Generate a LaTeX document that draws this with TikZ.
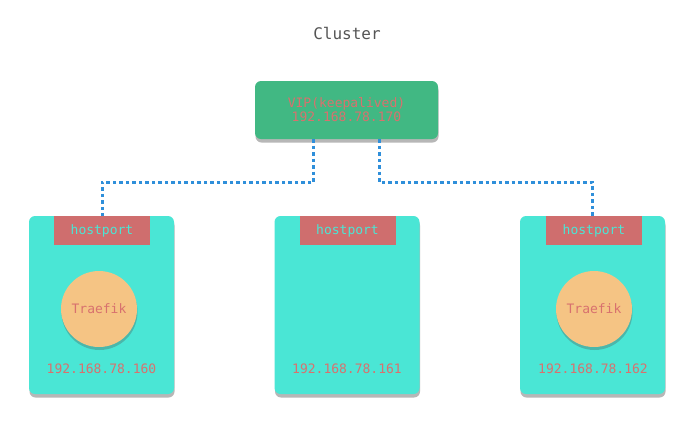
\documentclass[tikz,border=0pt]{standalone}
\usepackage{fontspec}
\setmonofont{DejaVu Sans Mono}
\usetikzlibrary{shadows}
\definecolor{vipgreen}{HTML}{41B883}
\definecolor{boxcyan}{HTML}{4AE6D5}
\definecolor{portred}{HTML}{CF6E6E}
\definecolor{txtred}{HTML}{D8716E}
\definecolor{circorange}{HTML}{F5C484}
\definecolor{linkblue}{HTML}{2F8FDA}
\definecolor{titlegray}{HTML}{555555}
\tikzset{
  shad/.style={drop shadow={shadow xshift=0.5pt,shadow yshift=-3.5pt,opacity=0.4,fill=black!70}},
  vipbox/.style={fill=vipgreen,rounded corners=6pt,minimum width=183pt,minimum height=58pt,inner sep=0pt,shad,align=center,text=txtred,font=\ttfamily\fontsize{13}{15}\selectfont},
  hostbox/.style={fill=boxcyan,rounded corners=6pt,minimum width=145pt,minimum height=178pt,inner sep=0pt,shad},
  portbox/.style={fill=portred,minimum width=96pt,minimum height=29pt,inner sep=0pt,text=boxcyan,font=\ttfamily\fontsize{13}{15}\selectfont},
  traefik/.style={circle,fill=circorange,minimum size=76pt,inner sep=0pt,text=txtred,font=\ttfamily\fontsize{13}{15}\selectfont,drop shadow={shadow xshift=0.5pt,shadow yshift=-3pt,opacity=0.3,fill=black!70}},
  iptext/.style={text=txtred,font=\ttfamily\fontsize{13}{15}\selectfont,inner sep=0pt},
  conn/.style={draw=linkblue,line width=3pt,dash pattern=on 3.5pt off 3pt},
}
\begin{document}
\begin{tikzpicture}[x=1pt,y=-1pt]
\useasboundingbox[fill=white] (0,0) rectangle (693,424);
\node[text=titlegray,font=\ttfamily\fontsize{16}{18}\selectfont] (title) at (347,33) {Cluster};
\node[vipbox] (vip) at (346.5,110) {VIP(keepalived)\\[-1pt]192.168.78.170};
% host boxes
\node[hostbox] (b1) at (101.5,305) {};
\node[hostbox] (b2) at (347,305) {};
\node[hostbox] (b3) at (592.5,305) {};
\node[portbox] (h1) at (102,230.5) {hostport};
\node[portbox] (h2) at (347.5,230.5) {hostport};
\node[portbox] (h3) at (594,230.5) {hostport};
\node[traefik] (t1) at (99,309) {Traefik};
\node[traefik] (t3) at (594,309) {Traefik};
\node[iptext] (ip1) at (101.5,369) {192.168.78.160};
\node[iptext] (ip2) at (347,369) {192.168.78.161};
\node[iptext] (ip3) at (593,369) {192.168.78.162};
% connectors
\draw[conn] ([xshift=59pt]vip.south west) -- ++(0,43) -| (h1.north);
\draw[conn] ([xshift=-59pt]vip.south east) -- ++(0,43) -| ([xshift=-2pt]h3.north);
\end{tikzpicture}
\end{document}
